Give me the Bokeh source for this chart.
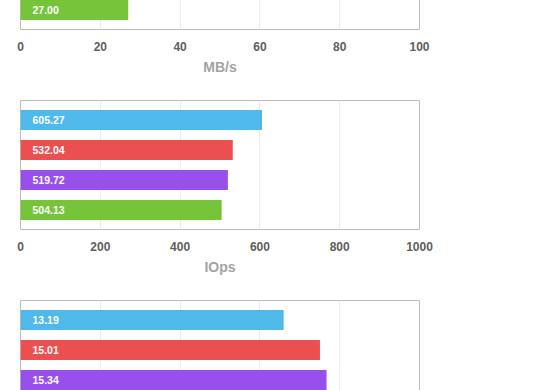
from bokeh.plotting import figure
from bokeh.layouts import column
from bokeh.models import Range1d, FixedTicker, ColumnDataSource
from bokeh.core.properties import value
from bokeh.embed import file_html
from bokeh.resources import INLINE

colors = ["#4fb9ea", "#ec4f4f", "#984fec", "#76c43a"]

# MB/s chart (only the last bar is visible in the crop)
mbs_rows = [3]
mbs_values = [27.00]
mbs_ticks = [0, 20, 40, 60, 80, 100]

# IOps chart
iops_rows = [0, 1, 2, 3]
iops_values = [605.27, 532.04, 519.72, 504.13]
iops_ticks = [0, 200, 400, 600, 800, 1000]

# third chart (only the first three bars are visible in the crop)
lat_rows = [0, 1, 2]
lat_values = [13.19, 15.01, 15.34]
lat_ticks = [0, 4, 8, 12, 16, 20]

FONT = "Liberation Sans"


def make_chart(rows, vals, ticks, title):
    p = figure(frame_width=399, frame_height=129,
               x_range=Range1d(ticks[0], ticks[-1]), y_range=Range1d(3.65, -0.65),
               output_backend="svg", toolbar_location=None,
               min_border_left=20, min_border_right=40,
               min_border_top=0, min_border_bottom=71)
    src = ColumnDataSource(dict(y=rows, v=vals,
                                c=[colors[r] for r in rows],
                                t=["%.2f" % v for v in vals]))
    p.hbar(y="y", left=0, right="v", height=0.667, fill_color="c",
           line_color=None, source=src)
    p.text(x=0, y="y", text="t", source=src, x_offset=12,
           text_align="left", text_baseline="middle", text_color="white",
           text_font=value(FONT), text_font_style="bold",
           text_font_size="10.5px")
    p.yaxis.visible = False
    ax = p.xaxis[0]
    ax.ticker = FixedTicker(ticks=ticks)
    ax.major_tick_line_color = None
    ax.minor_tick_line_color = None
    ax.axis_line_color = None
    ax.major_label_standoff = 6
    ax.major_label_text_font = FONT
    ax.major_label_text_font_style = "bold"
    ax.major_label_text_font_size = "12px"
    ax.major_label_text_color = "#5e5e5e"
    ax.axis_label = title
    ax.axis_label_standoff = 5
    ax.axis_label_text_font = FONT
    ax.axis_label_text_font_style = "bold"
    ax.axis_label_text_font_size = "14px"
    ax.axis_label_text_color = "#a3a3a3"
    p.xgrid.ticker = FixedTicker(ticks=ticks)
    p.xgrid.grid_line_color = "#ebebeb"
    p.ygrid.grid_line_color = None
    p.outline_line_color = "#bbbbbb"
    p.outline_line_width = 1
    p.background_fill_color = "white"
    p.border_fill_color = "white"
    return p


p1 = make_chart(mbs_rows, mbs_values, mbs_ticks, "MB/s")
p2 = make_chart(iops_rows, iops_values, iops_ticks, "IOps")
p3 = make_chart(lat_rows, lat_values, lat_ticks, "")
p1.margin = (-100, 0, 0, 0)

p = column(p1, p2, p3, spacing=0)

open("out.html", "w").write(file_html(p, INLINE))
